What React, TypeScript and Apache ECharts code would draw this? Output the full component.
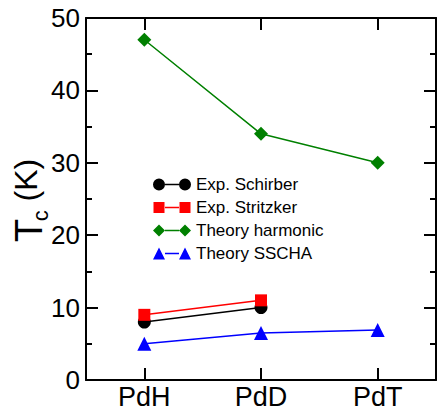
import React, { useEffect, useRef } from "react";
import * as echarts from "echarts";

const categories = ["PdH", "PdD", "PdT"];
const catPos = [1, 2, 3];
const schirber = [8, 10];
const stritzker = [9, 11];
const harmonic = [47, 34, 30];
const sscha = [5, 6.5, 6.9];
const seriesNames = ["Exp. Schirber", "Exp. Stritzker", "Theory harmonic", "Theory SSCHA"];
const yTicks = [0, 10, 20, 30, 40, 50];

const FONT = "Liberation Sans, Arial, Helvetica, sans-serif";

const bar = "M12,5.25H26V6.75H12Z";
const icons = [
  "path://M0,6A6,6,0,1,1,12,6A6,6,0,1,1,0,6Z" + bar + "M26,6A6,6,0,1,1,38,6A6,6,0,1,1,26,6Z",
  "path://M0.5,0.5H11.5V11.5H0.5Z" + bar + "M26.5,0.5H37.5V11.5H26.5Z M0,0.2H0.01V0.21Z M38,11.8H37.99V11.79Z",
  "path://M0,6L6,0L12,6L6,12Z" + bar + "M26,6L32,0L38,6L32,12Z",
  "path://M0,12L6,0L12,12Z" + bar + "M26,12L32,0L38,12Z",
];

function pts(vals: number[]) {
  return vals.map((v, i) => [catPos[i], v]);
}

export default function App() {
  const ref = useRef<HTMLDivElement>(null);
  useEffect(() => {
    if (!ref.current) return;
    const chart = echarts.init(ref.current, null, { renderer: "svg" });
    const frame = { show: true, lineStyle: { color: "#000", width: 2 } };
    const xCommon = {
      type: "value" as const,
      min: 0.5,
      max: 3.5,
      axisLine: { ...frame, onZero: false },
      splitLine: { show: false },
    };
    const yCommon = {
      type: "value" as const,
      min: 0,
      max: 50,
      interval: 10,
      axisLine: frame,
      splitLine: { show: false },
      axisTick: { show: true, inside: true, length: 12, lineStyle: { color: "#000", width: 2 } },
      minorTick: { show: true, splitNumber: 2, length: 6, lineStyle: { color: "#000", width: 2 } },
      minorSplitLine: { show: false },
    };
    const mk = (name: string, data: number[], color: string, symbol: string, size: number) => ({
      name,
      type: "line",
      data: pts(data),
      symbol,
      symbolSize: size,
      itemStyle: { color },
      lineStyle: { color, width: 1.5 },
      z: 3,
    });
    chart.setOption({
      animation: false,
      backgroundColor: "#fff",
      grid: { left: 86, right: 1, top: 18, bottom: 31, containLabel: false, outerBoundsMode: "none" },
      legend: {
        orient: "vertical",
        left: 153,
        top: 176,
        padding: 0,
        itemWidth: 38,
        itemHeight: 12,
        itemGap: 6,
        textStyle: { fontFamily: FONT, fontSize: 17, color: "#000" },
        data: seriesNames.map((n, i) => ({ name: n, icon: icons[i] })),
      },
      xAxis: [
        {
          ...xCommon,
          position: "bottom",
          axisTick: { show: true, inside: true, length: 12, customValues: catPos, lineStyle: { color: "#000", width: 2 } },
          axisLabel: {
            show: true,
            customValues: catPos,
            margin: 6,
            fontFamily: FONT,
            fontSize: 27,
            lineHeight: 22,
            color: "#000",
            formatter: (v: number) => categories[catPos.indexOf(Math.round(v))] ?? "",
          },
        },
        {
          ...xCommon,
          position: "top",
          axisTick: { show: true, inside: true, length: 12, customValues: catPos, lineStyle: { color: "#000", width: 2 } },
          axisLabel: { show: false },
        },
      ],
      yAxis: [
        {
          ...yCommon,
          position: "left",
          axisLabel: {
            show: true,
            margin: 6,
            fontFamily: FONT,
            fontSize: 26,
            color: "#000",
            formatter: (v: number) => (yTicks.includes(v) ? String(v) : ""),
          },
          name: "{t|T}{c|c}{k| (K)}",
          nameLocation: "middle",
          nameRotate: 90,
          nameGap: 38,
          nameMoveOverlap: false,
          nameTextStyle: {
            fontFamily: FONT,
            color: "#000",
            rich: {
              t: { fontFamily: FONT, fontSize: 38, lineHeight: 38, width: 18, verticalAlign: "top", color: "#000" },
              c: { fontFamily: FONT, fontSize: 22, lineHeight: 22, padding: [23, 0, 0, 0], color: "#000" },
              k: { fontFamily: FONT, fontSize: 32, lineHeight: 38, verticalAlign: "top", color: "#000" },
            },
          },
        },
        {
          ...yCommon,
          position: "right",
          axisLabel: { show: false },
        },
      ],
      series: [
        mk(seriesNames[0], schirber, "#000000", "circle", 13),
        mk(seriesNames[1], stritzker, "#ff0000", "rect", 12),
        mk(seriesNames[2], harmonic, "#008000", "diamond", 14),
        mk(seriesNames[3], sscha, "#0000ff", "triangle", 14),
      ],
    });
    return () => chart.dispose();
  }, []);
  return (
    <div
      ref={ref}
      style={{ position: "fixed", left: 0, top: 0, width: 437, height: 411, background: "#fff" }}
    />
  );
}
